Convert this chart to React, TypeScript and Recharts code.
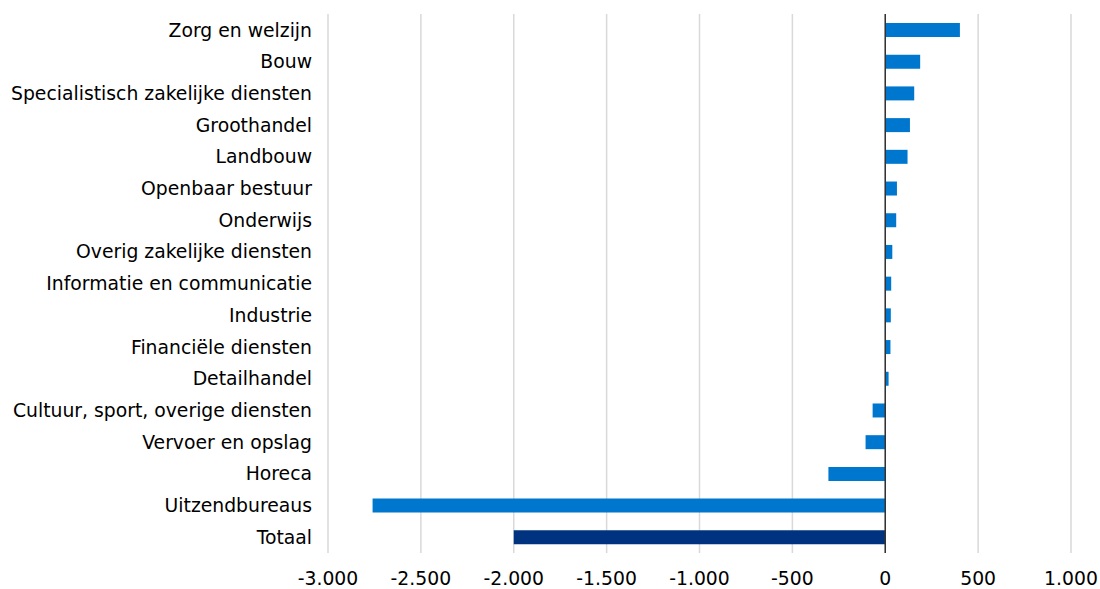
import {
  BarChart,
  Bar,
  Cell,
  XAxis,
  YAxis,
  CartesianGrid,
  ReferenceLine,
} from "recharts";

const CATEGORIES = [
  "Zorg en welzijn",
  "Bouw",
  "Specialistisch zakelijke diensten",
  "Groothandel",
  "Landbouw",
  "Openbaar bestuur",
  "Onderwijs",
  "Overig zakelijke diensten",
  "Informatie en communicatie",
  "Industrie",
  "Financiële diensten",
  "Detailhandel",
  "Cultuur, sport, overige diensten",
  "Vervoer en opslag",
  "Horeca",
  "Uitzendbureaus",
  "Totaal",
];

const VALUES = [
  402, 188, 156, 133, 120, 63, 59, 38, 32, 30, 28, 18, -68, -106, -306, -2760,
  -2000,
];

const X_TICKS = [-3000, -2500, -2000, -1500, -1000, -500, 0, 500, 1000];

const BAR_COLOR = "#0077CF";
const TOTAL_COLOR = "#00337F";
const FONT = "'DejaVu Sans', Verdana, sans-serif";
const FONT_SIZE = 18.8;

const data = CATEGORIES.map((name, i) => ({ name, value: VALUES[i] }));

// Dutch number format: dot as thousands separator
const formatNl = (v: number) =>
  (v < 0 ? "-" : "") +
  Math.abs(v)
    .toString()
    .replace(/\B(?=(\d{3})+(?!\d))/g, ".");

export default function App() {
  return (
    <div style={{ position: "absolute", left: 0, top: 0, background: "#fff" }}>
      <BarChart
        width={1100}
        height={589}
        data={data}
        layout="vertical"
        margin={{ top: 14, right: 29, left: 0, bottom: 0 }}
        barCategoryGap={0}
      >
        <CartesianGrid
          horizontal={false}
          stroke="#D9D9D9"
          strokeWidth={1.5}
        />
        <XAxis
          type="number"
          domain={[-3000, 1000]}
          ticks={X_TICKS}
          tickFormatter={formatNl}
          axisLine={false}
          tickLine={false}
          tickSize={0}
          tickMargin={19}
          height={36}
          interval={0}
          tick={{ fontSize: FONT_SIZE, fill: "#000", fontFamily: FONT }}
        />
        <YAxis
          type="category"
          dataKey="name"
          width={328}
          axisLine={false}
          tickLine={false}
          tickSize={0}
          tickMargin={16}
          interval={0}
          tick={{ fontSize: FONT_SIZE, fill: "#000", fontFamily: FONT }}
        />
        <Bar dataKey="value" barSize={14} isAnimationActive={false}>
          {data.map((d, i) => (
            <Cell
              key={d.name}
              fill={i === data.length - 1 ? TOTAL_COLOR : BAR_COLOR}
            />
          ))}
        </Bar>
        <ReferenceLine x={0} stroke="#333333" strokeWidth={1.5} />
      </BarChart>
    </div>
  );
}
